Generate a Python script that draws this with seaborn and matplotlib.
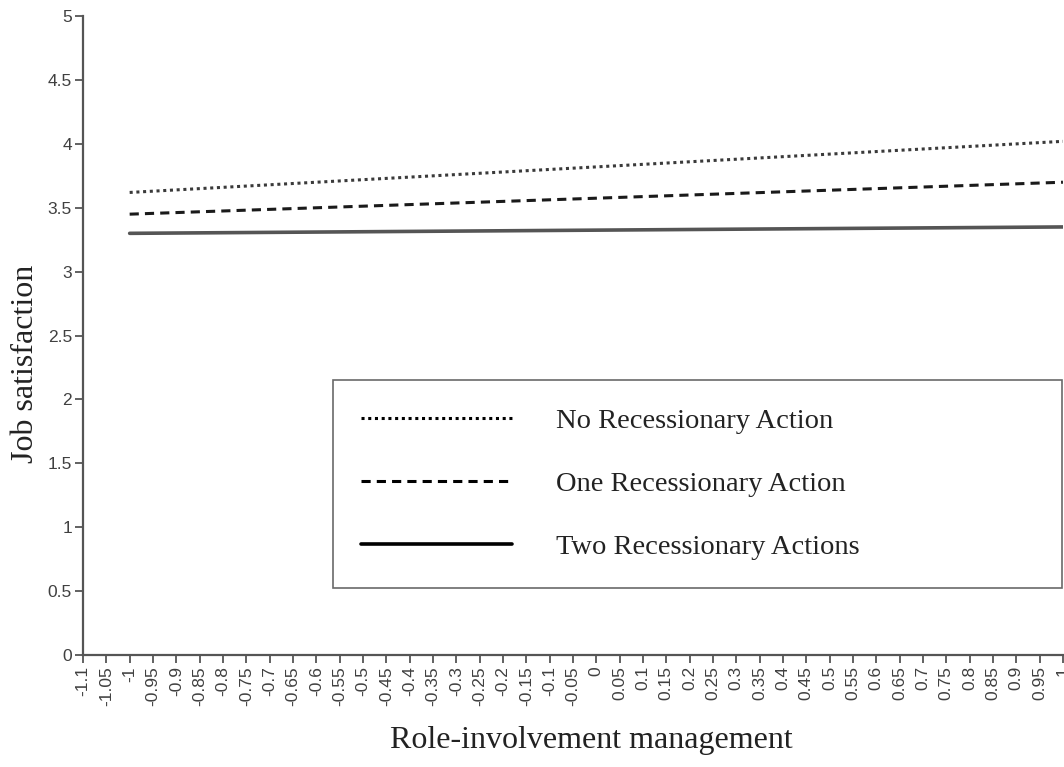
import numpy as np
import pandas as pd
import matplotlib
matplotlib.use('Agg')
import matplotlib.pyplot as plt
import seaborn as sns

# values (lines from x=-1 to x=1)
role_x = [-1.0, 1.0]
no_action = [3.62, 4.02]
one_action = [3.45, 3.70]
two_actions = [3.30, 3.35]
series_names = ['No Recessionary Action', 'One Recessionary Action', 'Two Recessionary Actions']

x_ticks = np.round(np.arange(-1.1, 1.0001, 0.05), 2)
x_tick_labels = ['{:g}'.format(v) for v in x_ticks]
y_ticks = np.arange(0, 5.01, 0.5)
y_tick_labels = ['{:g}'.format(v) for v in y_ticks]

sns.set_style('ticks')
plt.rcParams['axes.unicode_minus'] = False
plt.rcParams['font.family'] = ['Liberation Sans', 'DejaVu Sans']

fig = plt.figure(figsize=(10.64, 7.67), dpi=100)
ax = fig.add_axes([0.078, 0.146, 0.921, 0.833])

styles = [
    dict(color='#3a3a3a', linestyle=(0, (1, 1.2)), linewidth=2.2),
    dict(color='#1a1a1a', linestyle=(0, (3, 2)), linewidth=2.2),
    dict(color='#555555', linestyle='-', linewidth=2.6),
]
for vals, name, st in zip([no_action, one_action, two_actions], series_names, styles):
    sns.lineplot(x=role_x, y=vals, label=name, ax=ax, **st)

ax.set_xlim(-1.1, 1.0)
ax.set_ylim(0, 5)
ax.set_xticks(x_ticks)
ax.set_xticklabels(x_tick_labels, rotation=90, fontsize=12.5, color='#404040')
ax.set_yticks(y_ticks)
ax.set_yticklabels(y_tick_labels, fontsize=12.5, color='#404040')
ax.tick_params(axis='both', direction='out', length=6, width=1.3, color='#555555', pad=2)

for side in ['top', 'right']:
    ax.spines[side].set_visible(False)
for side in ['left', 'bottom']:
    ax.spines[side].set_color('#555555')
    ax.spines[side].set_linewidth(1.6)

ax.set_xlabel('Role-involvement management', family='Liberation Serif', fontsize=23,
              color='#222222')
ax.set_ylabel('Job satisfaction', family='Liberation Serif', fontsize=23,
              color='#222222')
ax.xaxis.set_label_coords(0.519, -0.111)
ax.yaxis.set_label_coords(-0.044, 0.456)

leg = ax.legend(loc='center left', bbox_to_anchor=(0.255, 0.106, 0.744, 0.323),
                mode='expand', frameon=True, fancybox=False, fontsize=20.5,
                handlelength=5.3, handletextpad=1.55, labelspacing=1.3,
                borderpad=1.0, borderaxespad=0)
leg.get_frame().set_edgecolor('#444444')
leg.get_frame().set_linewidth(1.2)
for t in leg.get_texts():
    t.set_family('Liberation Serif')
    t.set_color('#222222')
for h in leg.get_lines():
    h.set_color('black')

fig.savefig('out.png', dpi=100)
